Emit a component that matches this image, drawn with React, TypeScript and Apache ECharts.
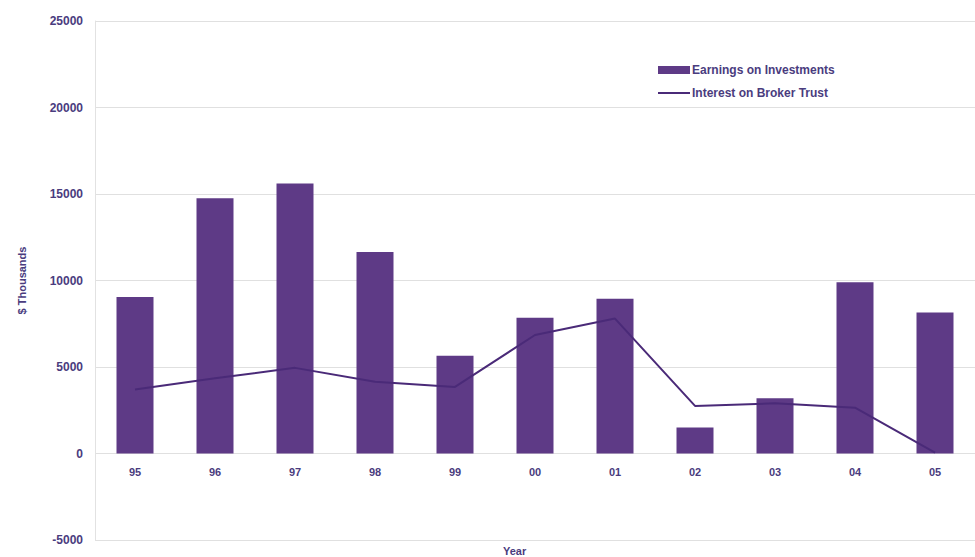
import React, { useEffect, useRef } from "react";
import * as echarts from "echarts";

const years = ["95", "96", "97", "98", "99", "00", "01", "02", "03", "04", "05"];
const earnings = [9050, 14750, 15600, 11650, 5650, 7850, 8950, 1500, 3200, 9900, 8150];
const interest = [3700, 4350, 4950, 4150, 3850, 6850, 7800, 2750, 2900, 2650, 50];
const yTicks = { min: -5000, max: 25000, interval: 5000 };

const textColor = "#4a3c7e";
const font = "Liberation Sans, Arial, sans-serif";

export default function App() {
  const ref = useRef<HTMLDivElement>(null);
  useEffect(() => {
    if (!ref.current) return;
    const chart = echarts.init(ref.current, undefined, { renderer: "svg" });
    chart.setOption({
      animation: false,
      backgroundColor: "#ffffff",
      textStyle: { fontFamily: font },
      grid: { left: 95, right: 0, top: 21, bottom: 17 },
      legend: {
        orient: "vertical",
        left: 653,
        top: 59,
        itemGap: 11,
        itemWidth: 32,
        itemHeight: 8,
        textStyle: { color: textColor, fontSize: 12, fontWeight: "bold", padding: [0, 0, 0, -3] },
        data: [
          { name: "Earnings on Investments", icon: "rect" },
          { name: "Interest on Broker Trust", icon: "path://M0 0 H32 V2 H0 Z" },
        ],
      },
      xAxis: {
        type: "category",
        data: years,
        offset: -86.5,
        axisLine: { show: false },
        axisTick: { show: false },
        axisLabel: { color: textColor, fontSize: 11, fontWeight: "bold", margin: 13 },
        splitLine: { show: false },
      },
      yAxis: {
        type: "value",
        min: yTicks.min,
        max: yTicks.max,
        interval: yTicks.interval,
        name: "$ Thousands",
        nameLocation: "middle",
        nameGap: 68,
        nameTextStyle: { color: textColor, fontSize: 11, fontWeight: "bold" },
        axisLine: { show: true, lineStyle: { color: "#e2e2e2" } },
        axisTick: { show: false },
        axisLabel: {
          color: textColor,
          fontSize: 12,
          fontWeight: "bold",
          margin: 12,
          formatter: (v: number) => String(v),
        },
        splitLine: { show: true, lineStyle: { color: "#e0e0e0", width: 1 } },
      },
      graphic: [
        {
          type: "text",
          left: 503,
          top: 545,
          style: { text: "Year", fill: textColor, fontSize: 11, fontWeight: "bold", fontFamily: font },
        },
      ],
      series: [
        {
          name: "Earnings on Investments",
          type: "bar",
          data: earnings,
          barWidth: 37,
          itemStyle: { color: "#5e3a86" },
        },
        {
          name: "Interest on Broker Trust",
          type: "line",
          data: interest,
          symbol: "none",
          lineStyle: { color: "#4a2a78", width: 2 },
          itemStyle: { color: "#4a2a78" },
        },
      ],
    });
    return () => chart.dispose();
  }, []);
  return <div ref={ref} style={{ width: 975, height: 557, position: "absolute", left: 0, top: 0 }} />;
}
